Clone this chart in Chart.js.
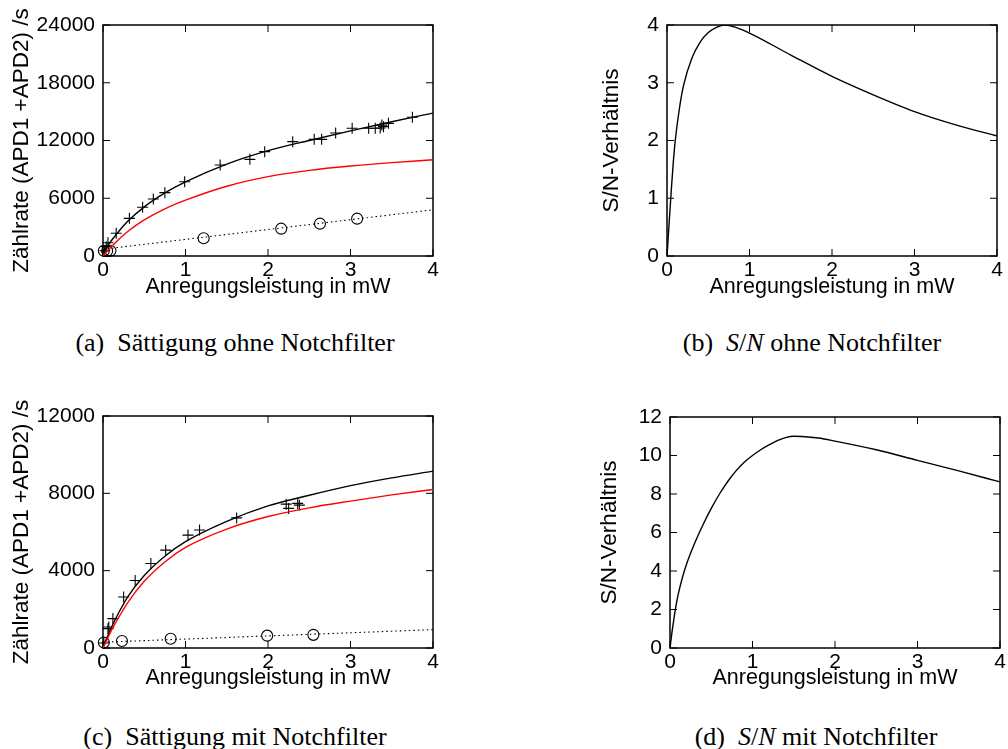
<!DOCTYPE html>
<html lang="de">
<head>
<meta charset="utf-8">
<title>Sättigung und S/N</title>
<script src="https://cdn.jsdelivr.net/npm/chart.js@4.4.1/dist/chart.umd.min.js"></script>
<style>
  html, body { margin: 0; padding: 0; background: #fff; }
  body { width: 1008px; height: 749px; position: relative; overflow: hidden; }
  canvas { position: absolute; }
  .caption {
    position: absolute;
    width: 460px;
    text-align: center;
    font-family: "Liberation Serif", "Times New Roman", serif;
    font-size: 26px;
    line-height: 26px;
    color: #000;
    white-space: nowrap;
  }
</style>
</head>
<body>
<canvas id="satOhne" width="450" height="300" style="left:0;top:0"></canvas>
<canvas id="snOhne" width="448" height="300" style="left:560px;top:0"></canvas>
<canvas id="satMit" width="450" height="300" style="left:0;top:391px"></canvas>
<canvas id="snMit" width="448" height="300" style="left:560px;top:391px"></canvas>

<div class="caption" style="left:5px;top:330px">(a)&ensp;Sättigung ohne Notchfilter</div>
<div class="caption" style="left:582px;top:330px">(b)&ensp;<i>S</i>/<i>N</i> ohne Notchfilter</div>
<div class="caption" style="left:5px;top:724px">(c)&ensp;Sättigung mit Notchfilter</div>
<div class="caption" style="left:586px;top:724px">(d)&ensp;<i>S</i>/<i>N</i> mit Notchfilter</div>

<script>
// ---- data ----
const xTicks = [0, 1, 2, 3, 4];

// (a) ohne Notchfilter: measured count rates (+)
const ohneCrossX = [0.02, 0.04, 0.06, 0.16, 0.32, 0.48, 0.61, 0.75, 0.99, 1.42, 1.78, 1.96, 2.30, 2.56, 2.65, 2.82, 3.02, 3.22, 3.30, 3.36, 3.38, 3.40, 3.46, 3.75];
const ohneCrossY = [550, 970, 1380, 2360, 3910, 5060, 5920, 6580, 7720, 9450, 10040, 10840, 11880, 12120, 12120, 12780, 13270, 13270, 13270, 13300, 13600, 13440, 13780, 14410];
// (a) background (o) and its dotted line
const ohneCircleX = [0.01, 0.05, 0.09, 1.22, 2.16, 2.63, 3.08];
const ohneCircleY = [550, 520, 550, 1840, 2840, 3360, 3880];
const ohneBgX = [0, 4];
const ohneBgY = [700, 4800];
// (a) fit curves
const fitX = [0, 0.05, 0.1, 0.2, 0.3, 0.5, 0.75, 1, 1.5, 2, 2.5, 3, 3.5, 4];
const ohneFitTotal = [400, 1000, 1580, 2650, 3600, 5100, 6550, 7700, 9550, 10950, 12000, 13000, 13950, 14850];
const ohneFitSignal = [0, 500, 950, 1800, 2550, 3750, 4900, 5800, 7250, 8250, 8900, 9350, 9700, 10000];

// (b) S/N ohne Notchfilter
const snOhneX = [0, 0.025, 0.05, 0.075, 0.1, 0.15, 0.2, 0.3, 0.4, 0.5, 0.6, 0.7, 0.85, 1, 1.5, 2, 2.5, 3, 3.5, 4];
const snOhneY = [0, 0.55, 1.1, 1.6, 2.0, 2.55, 2.95, 3.42, 3.7, 3.87, 3.96, 4.0, 3.95, 3.86, 3.48, 3.11, 2.79, 2.5, 2.27, 2.08];

// (c) mit Notchfilter
const mitCrossX = [0.01, 0.06, 0.07, 0.12, 0.25, 0.39, 0.58, 0.76, 1.03, 1.17, 1.62, 2.22, 2.25, 2.36, 2.38];
const mitCrossY = [260, 1000, 1090, 1520, 2640, 3490, 4370, 5060, 5840, 6100, 6730, 7440, 7220, 7480, 7390];
const mitCircleX = [0.01, 0.23, 0.82, 1.99, 2.55];
const mitCircleY = [280, 360, 480, 640, 680];
const mitBgX = [0, 4];
const mitBgY = [300, 950];
const mitFitTotal = [100, 550, 1050, 1900, 2650, 3750, 4750, 5500, 6550, 7350, 7900, 8400, 8800, 9150];
const mitFitSignal = [0, 450, 900, 1650, 2350, 3450, 4450, 5200, 6150, 6800, 7250, 7600, 7920, 8200];

// (d) S/N mit Notchfilter
const snMitX = [0, 0.025, 0.05, 0.075, 0.1, 0.15, 0.2, 0.3, 0.4, 0.5, 0.6, 0.7, 0.8, 0.9, 1.0, 1.1, 1.2, 1.3, 1.4, 1.5, 1.6, 1.8, 2.0, 2.5, 3.0, 3.5, 4.0];
const snMitY = [0, 0.85, 1.6, 2.25, 2.8, 3.65, 4.35, 5.45, 6.4, 7.25, 8.0, 8.65, 9.2, 9.65, 10.0, 10.3, 10.55, 10.77, 10.93, 11.0, 10.99, 10.91, 10.75, 10.3, 9.75, 9.2, 8.63];

const yTicksOhne = [0, 6000, 12000, 18000, 24000];
const yTicksMit = [0, 4000, 8000, 12000];
const yTicksSnOhne = [0, 1, 2, 3, 4];
const yTicksSnMit = [0, 2, 4, 6, 8, 10, 12];

// ---- helpers ----
const FONT = "'Liberation Sans', Arial, Helvetica, sans-serif";
Chart.defaults.color = "#000";
Chart.defaults.font.family = FONT;
Chart.defaults.font.size = 21;

const pts = (xs, ys) => xs.map((x, i) => ({ x: x, y: ys[i] }));

// gnuplot-like frame: box with inward ticks on all four sides
const gnuplotFrame = {
  id: "gnuplotFrame",
  beforeDatasetsDraw(chart) {
    const { ctx, chartArea: a, scales } = chart;
    const len = 7;
    ctx.save();
    ctx.strokeStyle = "#000";
    ctx.lineWidth = 1;
    ctx.beginPath();
    scales.x.ticks.forEach((t) => {
      const px = scales.x.getPixelForValue(t.value);
      ctx.moveTo(px, a.bottom);
      ctx.lineTo(px, a.bottom - len);
      ctx.moveTo(px, a.top);
      ctx.lineTo(px, a.top + len);
    });
    scales.y.ticks.forEach((t) => {
      const py = scales.y.getPixelForValue(t.value);
      ctx.moveTo(a.left, py);
      ctx.lineTo(a.left + len, py);
      ctx.moveTo(a.right, py);
      ctx.lineTo(a.right - len, py);
    });
    ctx.stroke();
    ctx.lineWidth = 1.5;
    ctx.strokeRect(a.left, a.top, a.right - a.left, a.bottom - a.top);
    ctx.restore();
  },
};

function curve(xs, ys, color, dash) {
  return {
    data: pts(xs, ys),
    showLine: true,
    borderColor: color,
    borderWidth: dash ? 1.1 : 1.4,
    borderDash: dash || [],
    pointRadius: 0,
    cubicInterpolationMode: "monotone",
  };
}

function markers(xs, ys, style) {
  return {
    data: pts(xs, ys),
    showLine: false,
    pointStyle: style,
    pointRadius: 5.5,
    borderColor: "#000",
    backgroundColor: "rgba(0,0,0,0)",
    borderWidth: 1.1,
    clip: false,
  };
}

function makePanel(id, p) {
  const canvas = document.getElementById(id);
  const H = canvas.height;
  const config = {
    type: "line",
    data: { datasets: p.datasets },
    options: {
      responsive: false,
      animation: false,
      devicePixelRatio: 1,
      layout: { padding: { top: p.top, right: canvas.width - p.right, bottom: 0, left: 0 } },
      plugins: { legend: { display: false }, tooltip: { enabled: false } },
      scales: {
        x: {
          type: "linear",
          min: 0,
          max: 4,
          afterBuildTicks: (axis) => { axis.ticks = xTicks.map((v) => ({ value: v })); },
          grid: { display: false, drawTicks: false },
          border: { display: false },
          ticks: { padding: 2, maxRotation: 0, autoSkip: false, callback: (v) => String(v) },
          title: { display: true, text: "Anregungsleistung in mW", font: { size: 21.5 }, padding: { top: 0, bottom: 0 } },
          afterFit: (axis) => { axis.height = H - p.bottom; },
        },
        y: {
          type: "linear",
          min: 0,
          max: p.yTicks[p.yTicks.length - 1],
          afterBuildTicks: (axis) => { axis.ticks = p.yTicks.map((v) => ({ value: v })); },
          grid: { display: false, drawTicks: false },
          border: { display: false },
          ticks: { padding: 8, autoSkip: false, callback: (v) => String(v) },
          title: { display: true, text: p.yTitle, font: { size: 22.5 }, padding: { top: p.yTitlePad, bottom: 0 } },
          afterFit: (axis) => { axis.width = p.left; },
        },
      },
    },
    plugins: [gnuplotFrame],
  };
  return new Chart(canvas, config);
}

// (a)
makePanel("satOhne", {
  left: 103, right: 433, top: 25, bottom: 256,
  yTicks: yTicksOhne, yTitle: "Zählrate (APD1 +APD2) /s", yTitlePad: 8.5,
  datasets: [
    curve(ohneBgX, ohneBgY, "#000", [1.5, 3]),
    curve(fitX, ohneFitSignal, "#ff0000"),
    curve(fitX, ohneFitTotal, "#000"),
    markers(ohneCircleX, ohneCircleY, "circle"),
    markers(ohneCrossX, ohneCrossY, "cross"),
  ],
});

// (b)
makePanel("snOhne", {
  left: 107, right: 437, top: 25, bottom: 256,
  yTicks: yTicksSnOhne, yTitle: "S/N-Verhältnis", yTitlePad: 38.5,
  datasets: [curve(snOhneX, snOhneY, "#000")],
});

// (c)
makePanel("satMit", {
  left: 103, right: 433, top: 25, bottom: 257,
  yTicks: yTicksMit, yTitle: "Zählrate (APD1 +APD2) /s", yTitlePad: 8.5,
  datasets: [
    curve(mitBgX, mitBgY, "#000", [1.5, 3]),
    curve(fitX, mitFitSignal, "#ff0000"),
    curve(fitX, mitFitTotal, "#000"),
    markers(mitCircleX, mitCircleY, "circle"),
    markers(mitCrossX, mitCrossY, "cross"),
  ],
});

// (d)
makePanel("snMit", {
  left: 110, right: 440, top: 26, bottom: 257,
  yTicks: yTicksSnMit, yTitle: "S/N-Verhältnis", yTitlePad: 36.5,
  datasets: [curve(snMitX, snMitY, "#000")],
});
</script>
</body>
</html>
